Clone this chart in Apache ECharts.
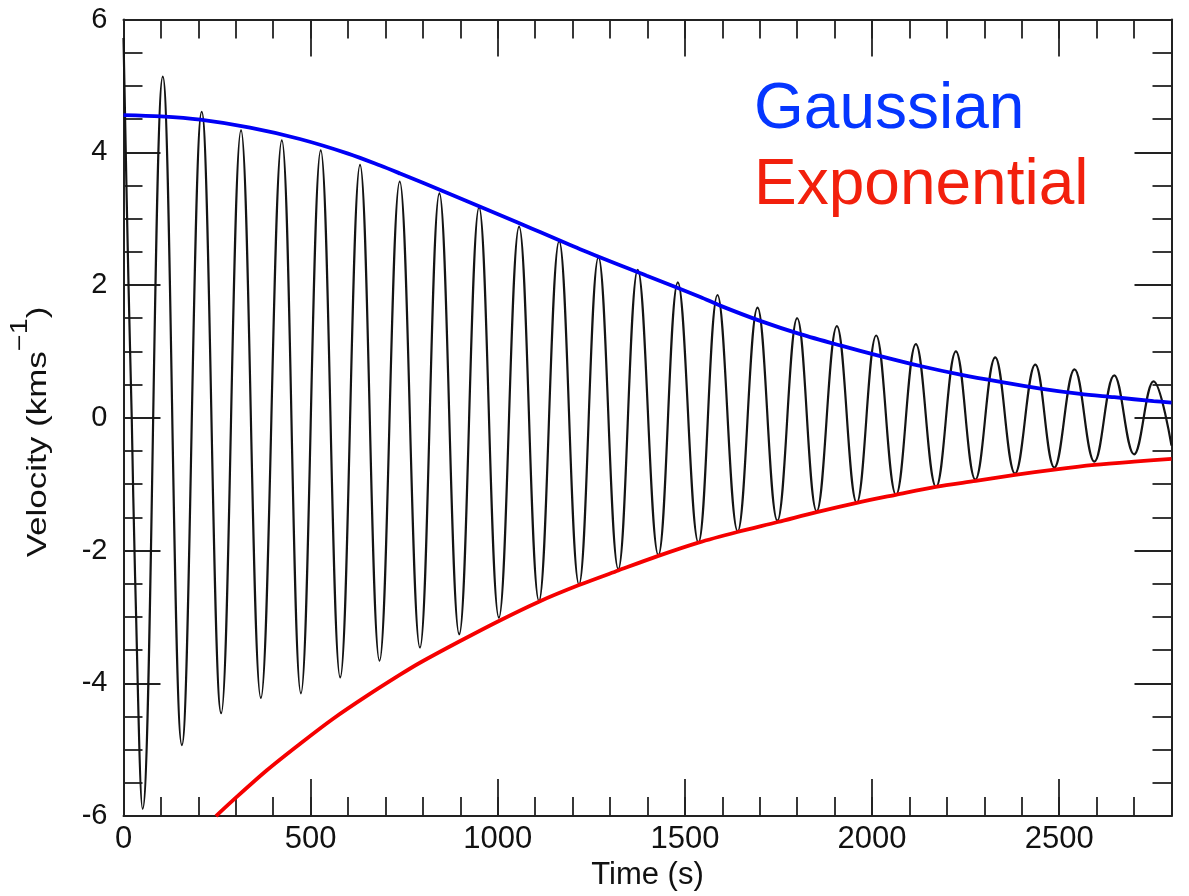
<!DOCTYPE html>
<html>
<head>
<meta charset="utf-8">
<script src="https://cdn.jsdelivr.net/npm/echarts@6/dist/echarts.min.js"></script>
<style>
html,body{margin:0;padding:0;background:#ffffff;}
#chart{width:1189px;height:896px;}
</style>
</head>
<body>
<div id="chart"></div>
<script>
// ---- data ----
// black damped oscillation: start, then alternating troughs / peaks, then end value
const oscTime = [0, 13, 22, 31,
  51, 105, 156, 209, 261, 314, 367, 423, 474, 527, 579, 632, 684, 738, 792, 844,
  897, 950, 1003, 1057, 1110, 1164, 1217, 1269, 1322, 1374, 1429, 1481, 1536, 1587,
  1641, 1694, 1747, 1800, 1852, 1906, 1959, 2011, 2064, 2117, 2171, 2224, 2276, 2329,
  2382, 2436, 2487, 2541, 2594, 2647, 2700, 2752, 2800];
const oscVelocity = [5.72, 2.1, 0.0, -2.4,
  -5.89, 5.14, -4.93, 4.61, -4.45, 4.33, -4.22, 4.18, -4.15, 4.03, -3.91, 3.81, -3.66, 3.56, -3.46, 3.38,
  -3.26, 3.17, -3.01, 2.88, -2.76, 2.66, -2.51, 2.42, -2.28, 2.23, -2.07, 2.04, -1.88, 1.85,
  -1.71, 1.66, -1.55, 1.50, -1.41, 1.38, -1.28, 1.24, -1.16, 1.11, -1.04, 1.00, -0.93, 0.91,
  -0.84, 0.80, -0.75, 0.73, -0.66, 0.64, -0.55, 0.55, -0.42];

// blue Gaussian envelope
const gaussTime = [0, 100, 205, 338, 471, 600, 686, 739, 864, 1042, 1220, 1398, 1541, 1594,
  1701, 1808, 1915, 2022, 2129, 2236, 2343, 2450, 2556, 2647, 2752, 2800];
const gaussVelocity = [4.56, 4.54, 4.49, 4.37, 4.20, 3.98, 3.80, 3.68, 3.39, 2.97, 2.54, 2.14, 1.82, 1.69,
  1.46, 1.26, 1.09, 0.93, 0.78, 0.65, 0.54, 0.44, 0.36, 0.31, 0.25, 0.23];

// red exponential envelope
const expTime = [247, 293, 383, 472, 561, 650, 739, 792, 897, 1003, 1110, 1217, 1322, 1429, 1536,
  1640, 1748, 1852, 1959, 2063, 2170, 2277, 2382, 2487, 2594, 2700, 2800];
const expVelocity = [-6.00, -5.76, -5.31, -4.91, -4.53, -4.19, -3.87, -3.69, -3.37, -3.06, -2.77, -2.52, -2.30, -2.08, -1.88,
  -1.72, -1.57, -1.42, -1.28, -1.16, -1.04, -0.95, -0.86, -0.78, -0.71, -0.66, -0.62];

const xRange = [0, 2800];
const yRange = [-6, 6];
const xMajorStep = 500, xMinorStep = 100;
const yMajorStep = 2, yMinorSplit = 4;
const xTitle = 'Time (s)';
const legendLabels = ['Gaussian', 'Exponential'];

// ---- chart ----
const FONT = '"Liberation Sans", Arial, Helvetica, sans-serif';
const AX = '#222222';
const pairs = (xs, ys) => xs.map((x, i) => [x, ys[i]]);

function xAxisDef(position, step, tickLen, withLabels) {
  return {
    type: 'value', position: position, min: xRange[0], max: xRange[1], interval: step,
    axisLine: { show: withLabels !== null, onZero: false, lineStyle: { color: AX, width: 2 } },
    axisTick: { show: true, inside: true, length: tickLen, lineStyle: { color: AX, width: 1.8 } },
    axisLabel: withLabels ? { show: true, margin: 8, fontSize: 31, color: '#111', fontFamily: FONT,
      showMaxLabel: false, formatter: v => String(v) } : { show: false },
    splitLine: { show: false },
    name: withLabels ? xTitle : '',
    nameLocation: 'middle', nameGap: 40,
    nameTextStyle: { fontSize: 31, color: '#111', fontFamily: FONT }
  };
}
function yAxisDef(position, withLabels) {
  return {
    type: 'value', position: position, min: yRange[0], max: yRange[1], interval: yMajorStep,
    axisLine: { show: true, onZero: false, lineStyle: { color: AX, width: 2 } },
    axisTick: { show: true, inside: true, length: 37, lineStyle: { color: AX, width: 1.8 } },
    minorTick: { show: true, splitNumber: yMinorSplit, length: 19, lineStyle: { color: AX, width: 1.8 } },
    axisLabel: withLabels ? { show: true, margin: 16, fontSize: 29, color: '#111', fontFamily: FONT,
      formatter: v => String(v) } : { show: false },
    splitLine: { show: false }, minorSplitLine: { show: false }
  };
}

const chart = echarts.init(document.getElementById('chart'), null, { renderer: 'canvas' });
chart.setOption({
  backgroundColor: '#ffffff',
  animation: false,
  grid: { left: 123.5, right: 17.5, top: 19.5, bottom: 78, containLabel: false },
  xAxis: [
    xAxisDef('bottom', xMajorStep, 37, true),
    xAxisDef('bottom', xMinorStep, 19, null),
    xAxisDef('top', xMajorStep, 37, false),
    xAxisDef('top', xMinorStep, 19, null)
  ],
  yAxis: [yAxisDef('left', true), yAxisDef('right', false)],
  series: [
    { type: 'line', name: 'Velocity', xAxisIndex: 0, yAxisIndex: 0, data: pairs(oscTime, oscVelocity),
      smooth: 0.4, showSymbol: false, symbol: 'none', lineStyle: { color: '#141414', width: 2.2 }, z: 2 },
    { type: 'line', name: legendLabels[0], xAxisIndex: 0, yAxisIndex: 0, data: pairs(gaussTime, gaussVelocity),
      smooth: 0.3, showSymbol: false, symbol: 'none', lineStyle: { color: '#0000f5', width: 3.8 }, z: 3 },
    { type: 'line', name: legendLabels[1], xAxisIndex: 0, yAxisIndex: 0, data: pairs(expTime, expVelocity),
      smooth: 0.3, showSymbol: false, symbol: 'none', lineStyle: { color: '#f50000', width: 3.8 }, z: 3 }
  ],
  graphic: [
    { type: 'text', x: 754, y: 110, z: 10,
      style: { text: legendLabels[0], font: '64px ' + FONT, fill: '#0536ff', align: 'left', verticalAlign: 'middle' } },
    { type: 'text', x: 754, y: 186, z: 10,
      style: { text: legendLabels[1], font: '64px ' + FONT, fill: '#f2200d', align: 'left', verticalAlign: 'middle' } },
    { type: 'text', x: 38, y: 432, rotation: Math.PI / 2, scaleX: 1.25, scaleY: 1, z: 10,
      style: { text: 'Velocity (kms{sup|\u22121})', font: '28px ' + FONT, fill: '#111', align: 'center', verticalAlign: 'middle',
        rich: { sup: { fontSize: 23, fontFamily: FONT, fill: '#111', verticalAlign: 'top', padding: [0, 0, 34, 0] } } } }
  ]
});
</script>
</body>
</html>
